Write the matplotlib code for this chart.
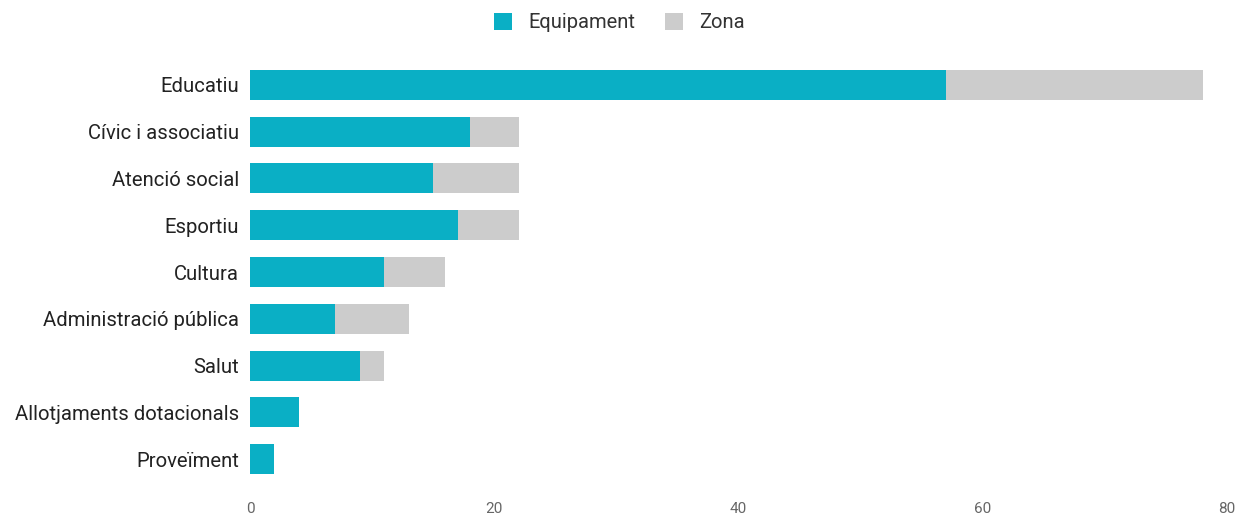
import matplotlib.pyplot as plt
import numpy as np

plt.rcParams['font.family'] = ['Roboto', 'DejaVu Sans']

categories = ["Educatiu", "Cívic i associatiu", "Atenció social", "Esportiu", "Cultura",
              "Administració pública", "Salut", "Allotjaments dotacionals", "Proveïment"]
equipament = [57, 18, 15, 17, 11, 7, 9, 4, 2]
zona = [21, 4, 7, 5, 5, 6, 2, 0, 0]

teal = "#0AAFC5"
grey = "#CCCCCC"

fig = plt.figure(figsize=(12.39, 5.15), dpi=100)
ax = fig.add_axes([250 / 1239, 1 - 482.5 / 515, 977 / 1239, 421 / 515])

y = np.arange(len(categories))
ax.barh(y, equipament, height=0.64, color=teal, label="Equipament")
ax.barh(y, zona, left=equipament, height=0.64, color=grey, label="Zona")

ax.set_ylim(len(categories) - 0.5, -0.5)
ax.set_xlim(0, 80)
ax.set_yticks(y)
ax.set_yticklabels(categories, fontsize=14.6, color="#222222")
ax.set_xticks([0, 20, 40, 60, 80])
ax.tick_params(axis="x", length=0, labelsize=11, labelcolor="#666666", pad=14)
ax.tick_params(axis="y", length=0, pad=8)
for s in ax.spines.values():
    s.set_visible(False)

fig.legend(loc="upper center", bbox_to_anchor=(0.5, 1.01), ncol=2, frameon=False,
           fontsize=14.5, handlelength=0.9, handleheight=0.9, columnspacing=1.5,
           handletextpad=0.8, labelcolor="#333333")

fig.savefig("out.png", dpi=100)
